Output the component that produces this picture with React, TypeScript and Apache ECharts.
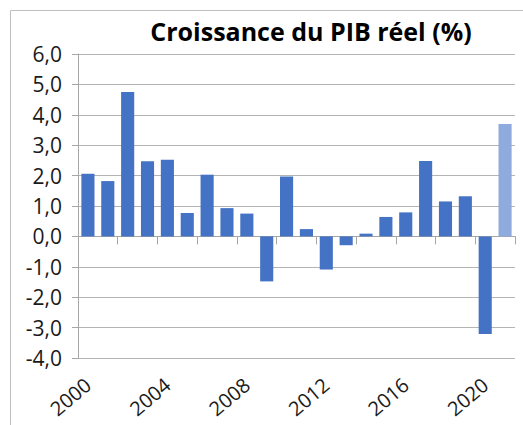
import React, { useEffect, useRef } from "react";
import * as echarts from "echarts";

const years: string[] = [
  "2000", "2001", "2002", "2003", "2004", "2005", "2006", "2007", "2008", "2009", "2010",
  "2011", "2012", "2013", "2014", "2015", "2016", "2017", "2018", "2019", "2020", "2021",
];
const growth: number[] = [
  2.06, 1.82, 4.75, 2.47, 2.52, 0.77, 2.03, 0.93, 0.75, -1.48, 1.97,
  0.24, -1.09, -0.29, 0.09, 0.64, 0.79, 2.48, 1.15, 1.32, -3.21, 3.7,
];
const forecastYears: string[] = ["2021"];
const titleText = "Croissance du PIB réel (%)";

const FONT = "'Open Sans', 'Noto Sans', sans-serif";

export default function App() {
  const ref = useRef<HTMLDivElement>(null);
  useEffect(() => {
    document.body.style.margin = "0";
    if (!ref.current) return;
    const chart = echarts.init(ref.current, null, { renderer: "svg" });
    const data = growth.map((v, i) => ({
      value: v,
      itemStyle: {
        color: forecastYears.includes(years[i]) ? "#8FAADC" : "#4472C4",
      },
    }));
    chart.setOption({
      animation: false,
      backgroundColor: "#ffffff",
      textStyle: { fontFamily: FONT },
      title: {
        text: titleText,
        left: 306,
        top: 13,
        textAlign: "center",
        textStyle: { fontFamily: FONT, fontSize: 25, fontWeight: "bold", color: "#000" },
      },
      graphic: [
        {
          type: "rect",
          shape: { x: 10.5, y: 10.5, width: 700, height: 600 },
          style: { fill: "none", stroke: "#BFBFBF", lineWidth: 1 },
          silent: true,
        },
      ],
      grid: { left: 78, right: 8, top: 54, bottom: 67, containLabel: false, outerBoundsMode: "none" },
      xAxis: [
        {
          type: "category",
          data: years,
          position: "bottom",
          axisLine: { show: false, onZero: false },
          axisTick: { show: false },
          axisLabel: {
            interval: 3,
            rotate: 40,
            margin: 24,
            fontSize: 20,
            lineHeight: 20,
            color: "#1a1a1a",
            fontFamily: FONT,
          },
        },
        {
          type: "category",
          data: years,
          position: "top",
          axisLine: { show: true, onZero: true, lineStyle: { color: "#A6A6A6", width: 1 } },
          axisTick: { show: true, inside: true, length: 8, lineStyle: { color: "#A6A6A6" } },
          axisLabel: { show: false },
        },
      ],
      yAxis: {
        type: "value",
        min: -4,
        max: 6,
        interval: 1,
        axisLine: { show: true, lineStyle: { color: "#A6A6A6" } },
        axisTick: { show: true, length: 6, lineStyle: { color: "#A6A6A6" } },
        splitLine: { show: true, lineStyle: { color: "#B4B4B4", width: 1 } },
        axisLabel: {
          margin: 16,
          fontSize: 21,
          color: "#1a1a1a",
          fontFamily: FONT,
          formatter: (v: number) => v.toFixed(1).replace(".", ","),
        },
      },
      series: [
        {
          type: "bar",
          data,
          xAxisIndex: 0,
          barCategoryGap: "34%",
        },
      ],
    });
    return () => chart.dispose();
  }, []);
  return <div ref={ref} style={{ width: 523, height: 425 }} />;
}
